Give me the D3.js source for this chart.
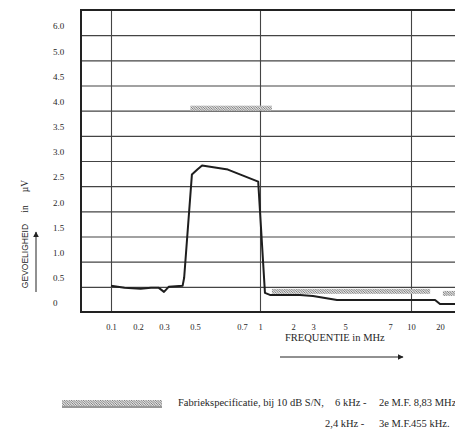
<!DOCTYPE html>
<html>
<head>
<meta charset="utf-8">
<script src="https://cdn.jsdelivr.net/npm/d3@7"></script>
<style>
  body { margin: 0; background: #fff; }
  text { fill: #262626; }
  .serif { font-family: "Liberation Serif", "DejaVu Serif", serif; }
  .sans { font-family: "Liberation Sans", Arial, sans-serif; }
</style>
</head>
<body>
<div id="chart"></div>
<script>
/* sensitivity chart: gevoeligheid vs frequentie */

const width = 455, height = 432;
const margin = { top: 10, right: -5, bottom: 120, left: 81 };

/* y axis labels (note the jump 5.0 -> 6.0) */
const yTickValues = [0, 0.5, 1, 1.5, 2, 2.5, 3, 3.5, 4, 4.5, 5, 6];
const yTickLabels = ["0", "0.5", "1.0", "1.5", "2.0", "2.5", "3.0", "3.5", "4.0", "4.5", "5.0", "6.0"];

/* x axis labels in MHz (hand drawn, not a true log axis) */
const xTickValues = [0.1, 0.2, 0.3, 0.5, 0.7, 1, 2, 3, 5, 7, 10, 20];
const xTickLabels = ["0.1", "0.2", "0.3", "0.5", "0.7", "1", "2", "3", "5", "7", "10", "20"];
const xGridValues = [0.1, 1, 10];

/* measured sensitivity in uV */
const freqMHz = [0.1, 0.15, 0.21, 0.25, 0.28, 0.3, 0.33, 0.42, 0.43, 0.48, 0.51, 0.53, 0.64, 0.97, 1.15, 1.3, 2.35, 3, 4.5, 18.3, 20, 27];
const sensUV  = [0.52, 0.48, 0.46, 0.48, 0.48, 0.40, 0.50, 0.52, 0.68, 2.73, 2.83, 2.91, 2.83, 2.59, 0.38, 0.34, 0.34, 0.32, 0.24, 0.24, 0.16, 0.16];

/* factory specification bands */
const specFrom  = [0.47, 1.36, 21];
const specTo    = [1.36, 16.6, 30];
const specLevel = [4.0, 0.36, 0.32];

const legendLine1 = ["Fabriekspecificatie, bij 10 dB S/N,", "6 kHz -", "2e M.F. 8,83 MHz"];
const legendLine2 = ["2,4 kHz -", "3e M.F.455 kHz."];

const svg = d3.select("#chart")
  .append("svg")
  .attr("width", width)
  .attr("height", height)
  .style("display", "block");

const plotBottom = height - margin.bottom;   // 312
const plotRight = width - margin.right;
const step = (plotBottom - margin.top) / 12;

/* piecewise y: linear 0..5, then one step per unit */
const y = d3.scaleLinear()
  .domain([0, 5, 6, 7])
  .range([plotBottom, plotBottom - 10 * step, plotBottom - 11 * step, margin.top]);

/* piecewise x calibrated on the printed tick marks */
const xStops = [111, 138, 164, 195, 242, 260, 293, 313, 345, 390, 411, 440];
const x = d3.scaleLinear()
  .domain(xTickValues)
  .range(xStops);

/* hatch pattern */
const defs = svg.append("defs");
const pat = defs.append("pattern")
  .attr("id", "hatch")
  .attr("patternUnits", "userSpaceOnUse")
  .attr("width", 2.4)
  .attr("height", 2.4);
pat.append("rect").attr("width", 2.4).attr("height", 2.4).attr("fill", "#e4e4e4");
pat.append("path")
  .attr("d", "M0,0L2.4,2.4M-1.2,1.2L1.2,3.6M1.2,-1.2L3.6,1.2")
  .attr("stroke", "#666")
  .attr("stroke-width", 0.8);

const arrowMarker = defs.append("marker")
  .attr("id", "arrow")
  .attr("viewBox", "0 0 10 10")
  .attr("refX", 9).attr("refY", 5)
  .attr("markerWidth", 6).attr("markerHeight", 6)
  .attr("markerUnits", "userSpaceOnUse")
  .attr("orient", "auto");
arrowMarker.append("path").attr("d", "M0,0L10,5L0,10z").attr("fill", "#222");

/* horizontal grid */
svg.append("g")
  .attr("transform", `translate(${margin.left},0)`)
  .call(d3.axisLeft(y).tickValues(yTickValues.concat([7])).tickSize(-(plotRight - margin.left)).tickFormat(""))
  .call(g => g.select(".domain").remove())
  .call(g => g.selectAll(".tick line").attr("stroke", "#444").attr("stroke-width", 1.1));

/* vertical grid */
svg.append("g")
  .attr("transform", `translate(0,${plotBottom})`)
  .call(d3.axisBottom(x).tickValues(xGridValues).tickSize(-(plotBottom - margin.top)).tickFormat(""))
  .call(g => g.select(".domain").remove())
  .call(g => g.selectAll(".tick line").attr("stroke", "#444").attr("stroke-width", 1.1));

/* frame */
svg.append("path")
  .attr("d", `M${plotRight + 5},${margin.top}H${margin.left}V${plotBottom}H${plotRight + 5}`)
  .attr("fill", "none")
  .attr("stroke", "#222")
  .attr("stroke-width", 2);

/* y tick labels */
svg.append("g")
  .attr("class", "serif")
  .attr("transform", "translate(53,0)")
  .call(d3.axisRight(y).tickValues(yTickValues).tickSize(0).tickPadding(0)
    .tickFormat((d, i) => yTickLabels[i]))
  .call(g => g.select(".domain").remove())
  .call(g => g.selectAll("text").attr("dy", "-0.7em").style("font-size", "9px").attr("fill", "#262626"));

/* x tick labels */
svg.append("g")
  .attr("class", "serif")
  .attr("transform", `translate(0,${plotBottom})`)
  .call(d3.axisBottom(x).tickValues(xTickValues).tickSize(0).tickPadding(12)
    .tickFormat((d, i) => xTickLabels[i]))
  .call(g => g.select(".domain").remove())
  .call(g => g.selectAll("text").style("font-size", "8.5px").attr("fill", "#262626"));

/* spec bands */
svg.append("g")
  .selectAll("rect")
  .data(specLevel)
  .join("rect")
  .attr("x", (d, i) => x(specFrom[i]))
  .attr("width", (d, i) => x(specTo[i]) - x(specFrom[i]))
  .attr("y", d => y(d) - 5)
  .attr("height", 5)
  .attr("fill", "url(#hatch)");

/* measured line */
const line = d3.line()
  .x((d, i) => x(freqMHz[i]))
  .y(d => y(d));

svg.append("path")
  .datum(sensUV)
  .attr("d", line)
  .attr("fill", "none")
  .attr("stroke", "#1e1e1e")
  .attr("stroke-width", 2)
  .attr("stroke-linejoin", "round");

/* y title */
svg.append("text")
  .attr("class", "sans")
  .attr("transform", "translate(28,256) rotate(-90)")
  .attr("text-anchor", "middle")
  .style("font-size", "8.5px")
  .text("GEVOELIGHEID");

svg.append("text")
  .attr("class", "serif")
  .attr("transform", "translate(28,209) rotate(-90)")
  .attr("text-anchor", "middle")
  .style("font-size", "9.5px")
  .text("in");

svg.append("text")
  .attr("class", "serif")
  .attr("transform", "translate(28,186) rotate(-90)")
  .attr("text-anchor", "middle")
  .style("font-size", "9.5px")
  .text("µV");

svg.append("line")
  .attr("x1", 36).attr("x2", 36)
  .attr("y1", 292).attr("y2", 232)
  .attr("stroke", "#222")
  .attr("stroke-width", 1)
  .attr("marker-end", "url(#arrow)");

/* x title */
svg.append("text")
  .attr("class", "serif")
  .attr("x", 285)
  .attr("y", 341)
  .style("font-size", "10.5px")
  .text("FREQUENTIE in MHz");

svg.append("line")
  .attr("x1", 280).attr("x2", 403)
  .attr("y1", 357).attr("y2", 357)
  .attr("stroke", "#222")
  .attr("stroke-width", 1)
  .attr("marker-end", "url(#arrow)");

/* legend */
svg.append("rect")
  .attr("x", 62).attr("y", 400)
  .attr("width", 100).attr("height", 6)
  .attr("fill", "url(#hatch)");
svg.append("line")
  .attr("x1", 62).attr("x2", 162)
  .attr("y1", 407).attr("y2", 407)
  .attr("stroke", "#333")
  .attr("stroke-width", 1.2);

const legendX1 = [178, 335, 379];
svg.append("g")
  .attr("class", "serif")
  .selectAll("text")
  .data(legendLine1)
  .join("text")
  .attr("x", (d, i) => legendX1[i])
  .attr("y", 406)
  .style("font-size", "10.5px")
  .text(d => d);

const legendX2 = [325, 379];
svg.append("g")
  .attr("class", "serif")
  .selectAll("text")
  .data(legendLine2)
  .join("text")
  .attr("x", (d, i) => legendX2[i])
  .attr("y", 427)
  .style("font-size", "10.5px")
  .text(d => d);
</script>
</body>
</html>
